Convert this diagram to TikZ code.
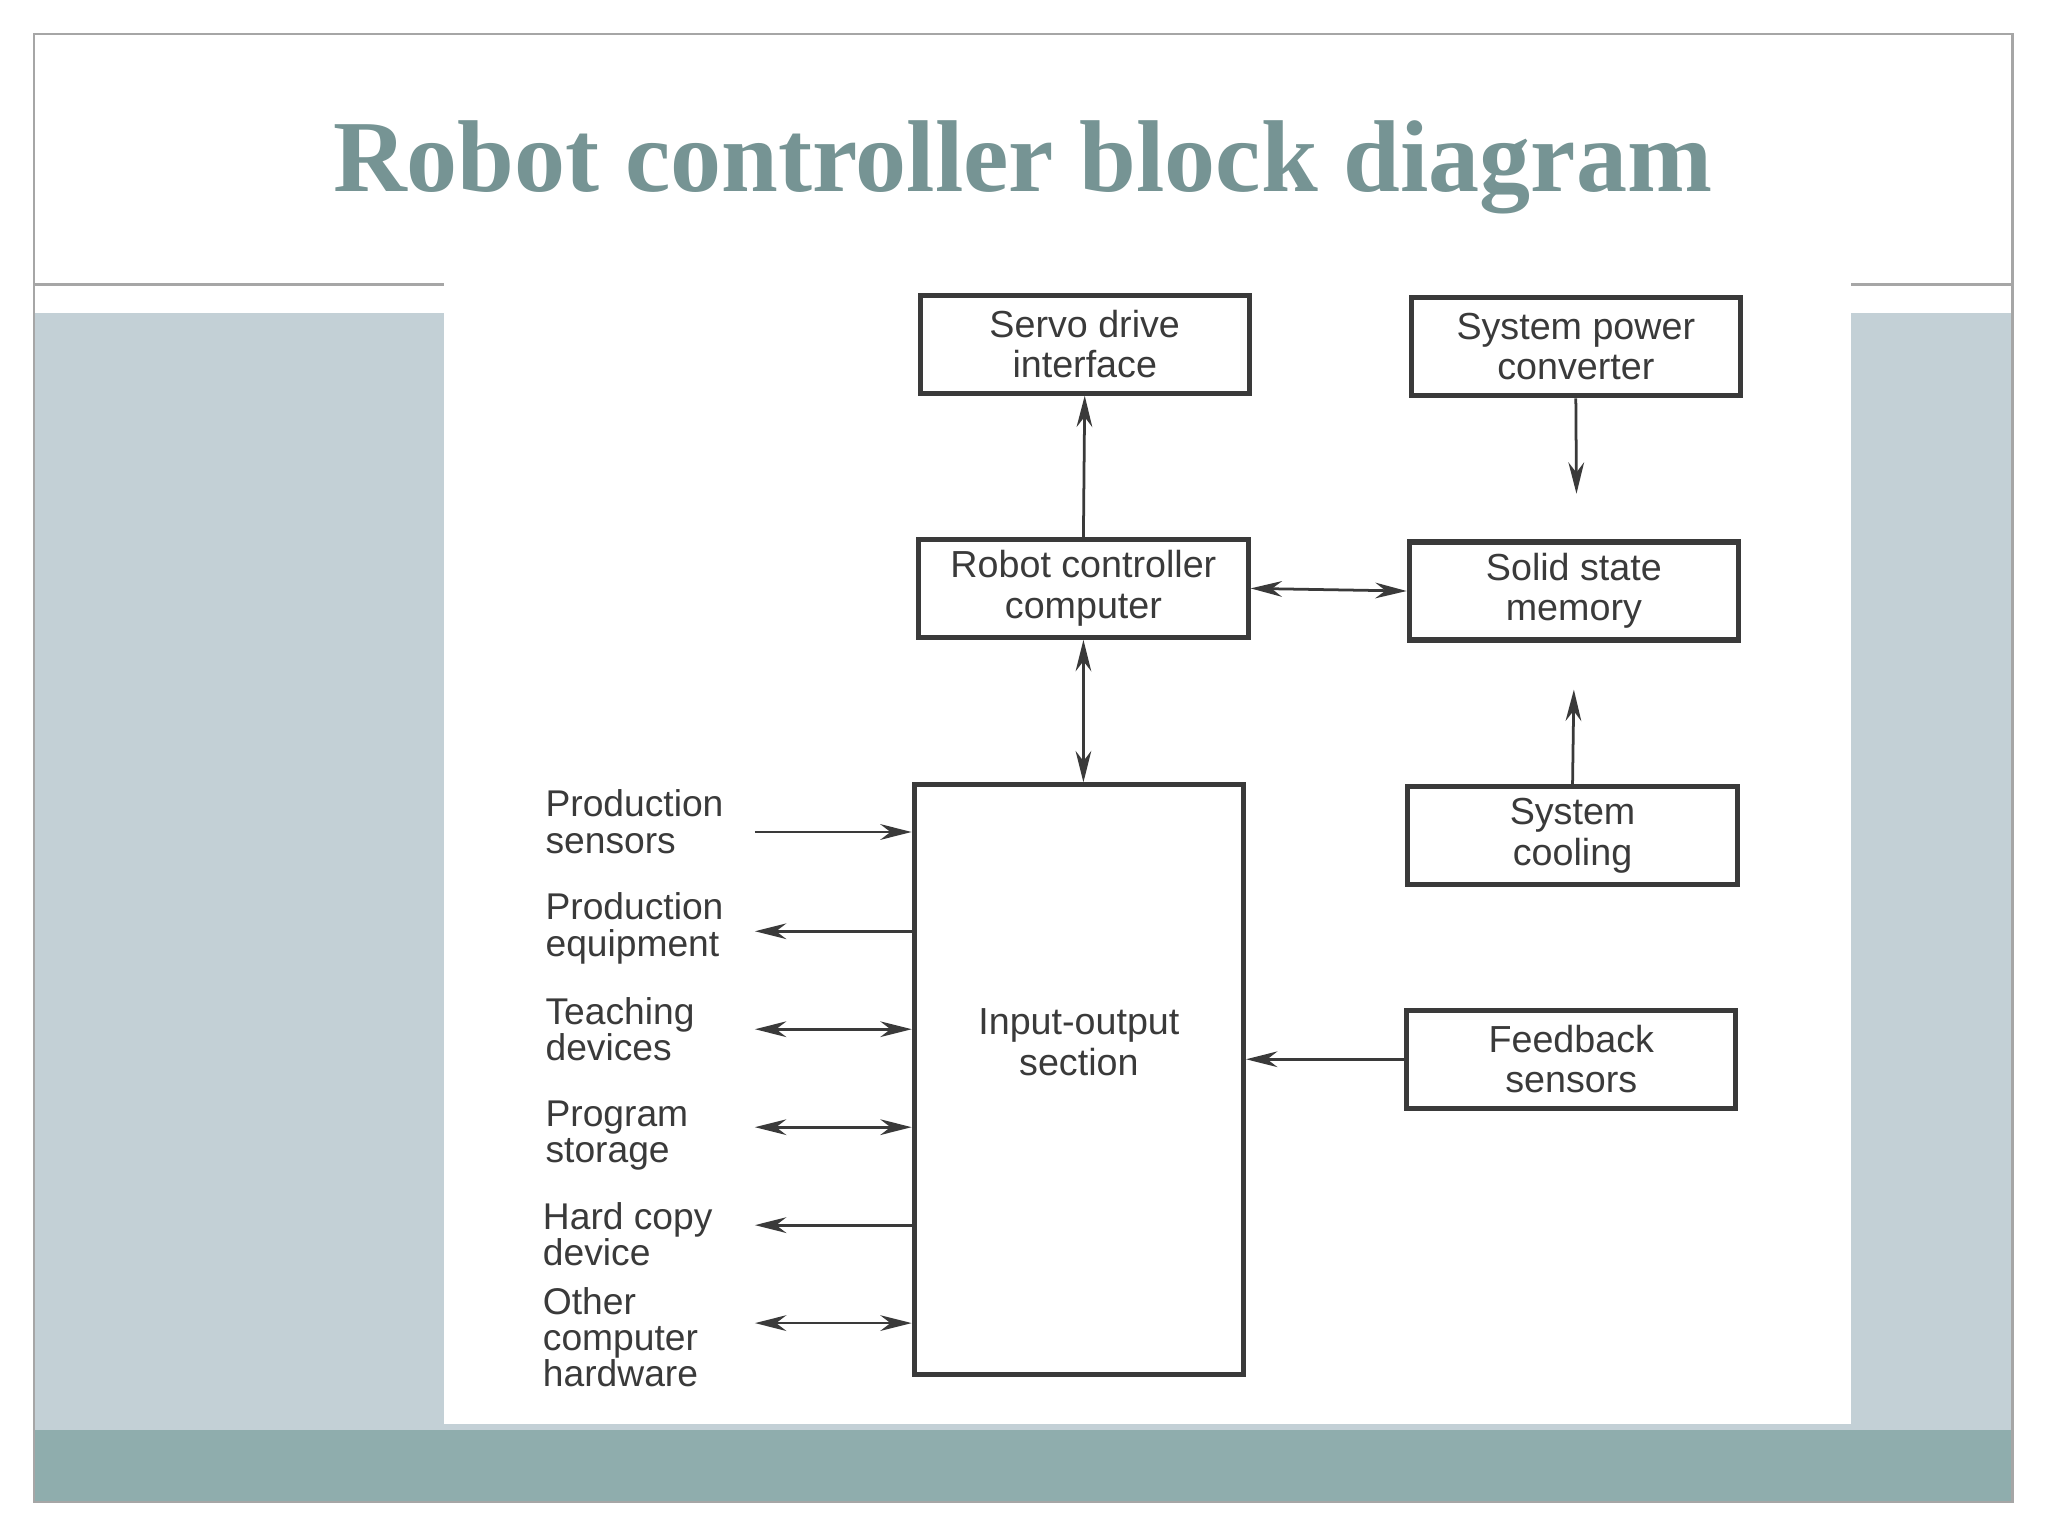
\documentclass[tikz,border=0pt]{standalone}
\usepackage{fontspec}
\setmainfont{Liberation Sans}
\newfontfamily\titlefont{Liberation Serif}
\usetikzlibrary{arrows.meta}
\definecolor{band}{HTML}{C3D0D6}
\definecolor{foot}{HTML}{8FADAD}
\definecolor{ttl}{HTML}{769494}
\definecolor{ink}{HTML}{3A3A3A}
\begin{document}
\begin{tikzpicture}[x=0.01cm,y=-0.01cm,
  box/.style={draw=ink,line width=1.1pt,minimum width=2.52cm,minimum height=0.75cm,inner sep=0pt,align=center,font=\fontsize{8.2}{8.8}\selectfont,text=ink},
  lab/.style={anchor=north west,align=left,inner sep=0pt,font=\fontsize{8.1}{7.9}\selectfont,text=ink},
  con/.style={draw=ink,line width=0.6pt,-{Stealth[length=0.24cm,width=0.12cm]}},
  bi/.style={draw=ink,line width=0.6pt,{Stealth[length=0.24cm,width=0.12cm]}-{Stealth[length=0.24cm,width=0.12cm]}}]
\useasboundingbox (0,0) rectangle (1568,1176);
\fill[white] (0,0) rectangle (1568,1176);
\fill[band] (26,240) rectangle (1541,1095);
\fill[foot] (26,1095) rectangle (1541,1150);
\draw[gray!70,line width=0.6pt] (26,26) rectangle (1541,1150);
\draw[gray!70,line width=0.6pt] (26,218) -- (340,218) (1417,218) -- (1541,218);
\fill[white] (340,200) rectangle (1417,1090);
\node[text=ttl,inner sep=0pt] (title) at (783,128) {\resizebox{10.55cm}{!}{\titlefont\bfseries Robot controller block diagram}};
% boxes
\node[box] (servo) at (830.5,263.5) {Servo drive\\interface};
\node[box] (power) at (1206.5,265.5) {System power\\converter};
\node[box] (rcc) at (829.5,450.5) {Robot controller\\computer};
\node[box] (ssm) at (1205,452.5) {Solid state\\memory};
\node[box,minimum height=4.51cm] (io) at (826,826.5) {};
\node[box,draw=none,minimum height=0pt] (iot) at (826,798) {Input-output\\section};
\node[box] (cool) at (1204,640) {System\\cooling};
\node[box] (fb) at (1203,811) {Feedback\\sensors};
% arrows
\coordinate (pwrEnd) at (1207,378);
\coordinate (coolEnd) at (1205,528);
\draw[con] (rcc.north) -- (servo.south);
\draw[con] (power.south) -- (pwrEnd);
\draw[bi] (rcc.east) -- (ssm.east -| ssm.west);
\draw[bi] (rcc.south) -- (io.north -| rcc.south);
\draw[con] (cool.north) -- (coolEnd);
\draw[con] (fb.west) -- (fb.west -| io.east);
% left labels
\node[lab] (l1) at (417,604) {Production\\sensors};
\node[lab] (l2) at (417,683) {Production\\equipment};
\node[lab] (l3) at (417,763) {Teaching\\devices};
\node[lab] (l4) at (417,842) {Program\\storage};
\node[lab] (l5) at (415,920) {Hard copy\\device};
\node[lab] (l6) at (415,985) {Other\\computer\\hardware};
\foreach \n/\y in {a/637,b/713,c/788,d/863,e/938,f/1013}{
  \coordinate (s\n) at (578,\y);
  \coordinate (t\n) at (io.west |- 0,\y);
}
\draw[con] (sa) -- (ta);
\draw[con] (tb) -- (sb);
\draw[bi] (sc) -- (tc);
\draw[bi] (sd) -- (td);
\draw[con] (te) -- (se);
\draw[bi] (sf) -- (tf);
\end{tikzpicture}
\end{document}
